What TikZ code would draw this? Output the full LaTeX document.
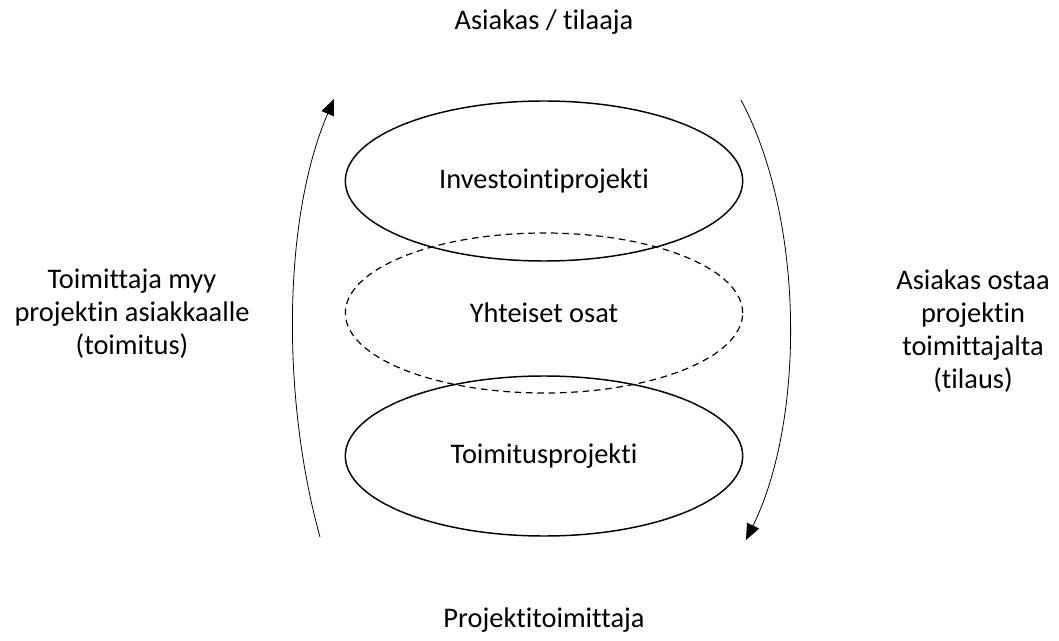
\documentclass[tikz,border=0pt]{standalone}
\usepackage{fontspec}
\setmainfont{Carlito}[Ligatures=NoCommon]
\usepackage{tikz}
\usetikzlibrary{calc, positioning, arrows.meta, shapes.geometric}

\begin{document}
\begin{tikzpicture}[x=0.75pt, y=-0.75pt, proj/.style={draw, ellipse, line width=1.1pt, minimum width=298pt, minimum height=120pt, inner sep=0pt}, yht/.style={proj, line width=0.9pt, dash pattern=on 5pt off 3.5pt}, txt/.style={align=center, font=\fontsize{21.3}{24.75}\selectfont}, >={Triangle[length=12pt, width=10pt]}]
      \useasboundingbox (0,0) rectangle (1059,641);
      \node[proj, txt] (invest) at (544,181) {Investointiprojekti};
      \node[yht, txt] (yht) at (544,313) {Yhteiset osat};
      \node[proj, txt] (toimitus) at (544,456) {Toimitusprojekti};
      \node[txt] (asiakas) at (544,22) {Asiakas / tilaaja};
      \node[txt] (toimittaja) at (544,620) {Projektitoimittaja};
      \node[txt] (myy) at (132,314) {Toimittaja myy\\projektin asiakkaalle\\(toimitus)};
      \node[txt] (ostaa) at (973,331) {Asiakas ostaa\\projektin\\toimittajalta\\(tilaus)};
      \coordinate (l_start) at (320,537);
      \coordinate (l_end) at (334,99);
      \coordinate (r_start) at (741,100);
      \coordinate (r_end) at (746,540);
      \draw[->, line width=0.6pt] (l_start) .. controls (282,400) and (282,220) .. (l_end);
      \draw[->, line width=0.6pt] (r_start) .. controls (805,220) and (805,420) .. (r_end);
    \end{tikzpicture}
\end{document}
